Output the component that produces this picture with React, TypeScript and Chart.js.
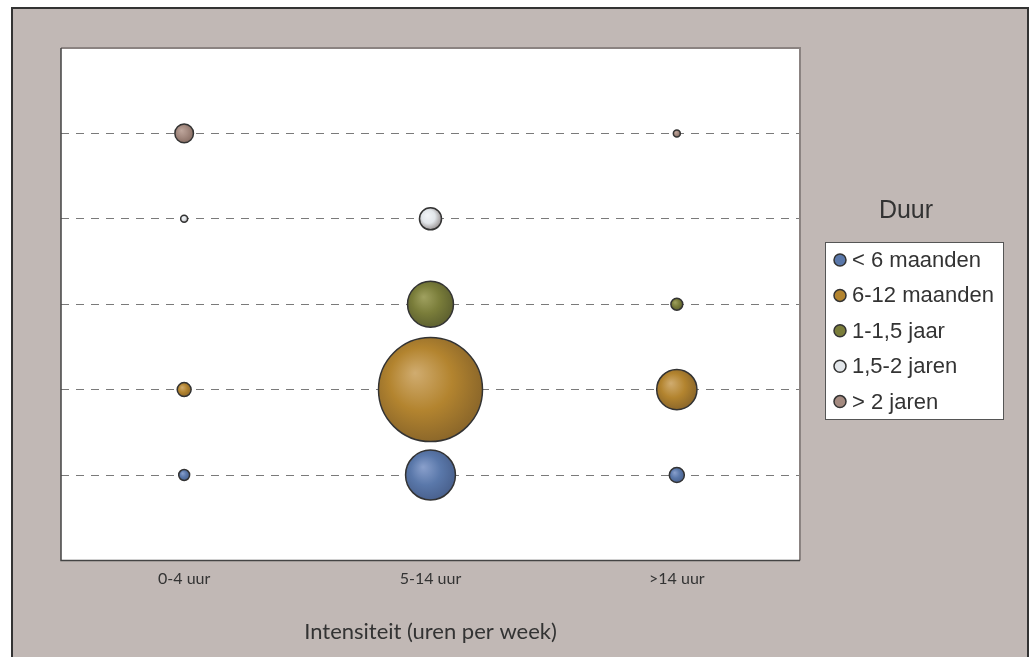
import React, { useEffect, useRef } from 'react';
import { Chart, registerables } from 'chart.js';

Chart.register(...registerables);

// ---- data ----
const categories = ['0-4 uur', '5-14 uur', '>14 uur'];
const levels = [1, 2, 3, 4, 5];
const durationLabels = ['< 6 maanden', '6-12 maanden', '1-1,5 jaar', '1,5-2 jaren', '> 2 jaren'];
// relative share per intensity category (bubble area is proportional to the value)
const lt6Months = [1.1, 23, 2.1];
const m6to12Months = [1.8, 100, 15];
const y1to15Years = [0, 19.5, 1.3];
const y15to2Years = [0.45, 4.5, 0];
const gt2Years = [3.2, 0, 0.45];
const xTitle = 'Intensiteit (uren per week)';
const legendTitle = 'Duur';

const seriesValues = [lt6Months, m6to12Months, y1to15Years, y15to2Years, gt2Years];

// colours: [legend/base, highlight, edge]
const palette = [
  ['#5a78aa', '#8aa0cc', '#4a628f'],
  ['#b3842f', '#d0ac70', '#8d682a'],
  ['#7a7d3a', '#a0a160', '#5f6230'],
  ['#e2e6ea', '#f2f4f7', '#9c9696'],
  ['#a48a80', '#bfa79d', '#8a7066'],
];

const sizeScale = (v: number) => 5.2 * Math.sqrt(v);

const frameBg = '#c1b8b5';

const backgroundPlugin = {
  id: 'bgFrame',
  beforeDraw(chart: any) {
    const { ctx, chartArea: a, width, height } = chart;
    ctx.save();
    ctx.fillStyle = '#ffffff';
    ctx.fillRect(0, 0, width, height);
    ctx.fillStyle = frameBg;
    ctx.fillRect(12, 8, 1016, height);
    ctx.strokeStyle = '#333333';
    ctx.lineWidth = 2;
    ctx.beginPath();
    ctx.moveTo(12, height + 5);
    ctx.lineTo(12, 8);
    ctx.lineTo(1028, 8);
    ctx.lineTo(1028, height + 5);
    ctx.stroke();
    ctx.fillStyle = '#ffffff';
    ctx.fillRect(a.left, a.top, a.right - a.left, a.bottom - a.top);
    ctx.restore();
  },
  afterDraw(chart: any) {
    const { ctx, chartArea: a } = chart;
    ctx.save();
    // plot border
    ctx.lineWidth = 2;
    ctx.strokeStyle = '#8b8381';
    ctx.beginPath();
    ctx.moveTo(a.left, a.top);
    ctx.lineTo(a.right, a.top);
    ctx.lineTo(a.right, a.bottom);
    ctx.stroke();
    ctx.strokeStyle = '#444444';
    ctx.lineWidth = 1.5;
    ctx.beginPath();
    ctx.moveTo(a.left, a.top);
    ctx.lineTo(a.left, a.bottom);
    ctx.lineTo(a.right, a.bottom);
    ctx.stroke();

    // legend
    const font = '"Liberation Sans", Arial, sans-serif';
    ctx.fillStyle = '#333333';
    ctx.textAlign = 'center';
    ctx.textBaseline = 'middle';
    ctx.font = `25px ${font}`;
    ctx.fillText(legendTitle, 906, 211);
    ctx.fillStyle = '#ffffff';
    ctx.fillRect(825.5, 242.5, 178, 177);
    ctx.strokeStyle = '#555555';
    ctx.lineWidth = 1;
    ctx.strokeRect(825.5, 242.5, 178, 177);
    ctx.font = `22px ${font}`;
    ctx.textAlign = 'left';
    chart.data.datasets.forEach((ds: any, i: number) => {
      const y = 260 + 35.4 * i;
      ctx.beginPath();
      ctx.arc(840, y, 6, 0, Math.PI * 2);
      ctx.fillStyle = ds.legendColor;
      ctx.fill();
      ctx.strokeStyle = '#333333';
      ctx.lineWidth = 1.5;
      ctx.stroke();
      ctx.fillStyle = '#333333';
      ctx.fillText(ds.label, 852, y + 1);
    });
    ctx.restore();
  },
};

export default function App() {
  const ref = useRef<HTMLCanvasElement>(null);
  useEffect(() => {
    if (!ref.current) return;
    const datasets = seriesValues.map((vals, si) => {
      const [base, light, dark] = palette[si];
      const data = vals
        .map((v, ci) => ({ x: ci, y: levels[si], r: sizeScale(v), v }))
        .filter((p) => p.v > 0);
      return {
        label: durationLabels[si],
        legendColor: base,
        data,
        borderColor: '#333333',
        borderWidth: 1.5,
        backgroundColor: (c: any) => {
          const raw = c.raw;
          const chart = c.chart;
          if (!raw || !chart.scales || !chart.scales.x || !chart.scales.y) return base;
          const x = chart.scales.x.getPixelForValue(raw.x);
          const y = chart.scales.y.getPixelForValue(raw.y);
          const r = raw.r;
          if (![x, y, r].every((n) => Number.isFinite(n)) || r <= 0) return base;
          const g = chart.ctx.createRadialGradient(x - r * 0.3, y - r * 0.32, 0, x - r * 0.1, y - r * 0.1, r * 1.1);
          g.addColorStop(0, light);
          g.addColorStop(0.55, base);
          g.addColorStop(1, dark);
          return g;
        },
        hoverRadius: 0,
      };
    });
    const chart = new Chart(ref.current, {
      type: 'bubble',
      data: { datasets } as any,
      options: {
        responsive: false,
        animation: false,
        events: [],
        layout: { autoPadding: false, padding: { left: 61, right: 231, top: 48, bottom: 4 } },
        plugins: { legend: { display: false }, tooltip: { enabled: false } },
        scales: {
          x: {
            type: 'linear',
            min: -0.5,
            max: 2.5,
            afterBuildTicks: (axis: any) => {
              axis.ticks = categories.map((_, i) => ({ value: i }));
            },
            grid: { display: false, drawTicks: false },
            border: { display: false },
            ticks: {
              padding: 9,
              color: '#333333',
              font: { family: 'Lato, "Open Sans", sans-serif', size: 16 },
              callback: (v: any) => categories[v] ?? '',
              maxRotation: 0,
              autoSkip: false,
            },
            title: {
              display: true,
              text: xTitle,
              color: '#333333',
              font: { family: 'Lato, "Open Sans", sans-serif', size: 22 },
              padding: { top: 21, bottom: 8 },
            },
          },
          y: {
            type: 'linear',
            min: 0,
            max: 6,
            afterBuildTicks: (axis: any) => {
              axis.ticks = levels.map((v) => ({ value: v }));
            },
            ticks: { display: false },
            grid: { color: '#7a7a7a', lineWidth: 1, drawTicks: false },
            border: { display: false, dash: [8, 7] },
          },
        },
      },
      plugins: [backgroundPlugin],
    });
    return () => chart.destroy();
  }, []);
  return (
    <div style={{ position: 'fixed', left: 0, top: 0, width: 1031, height: 657 }}>
      <canvas ref={ref} width={1031} height={657} />
    </div>
  );
}
